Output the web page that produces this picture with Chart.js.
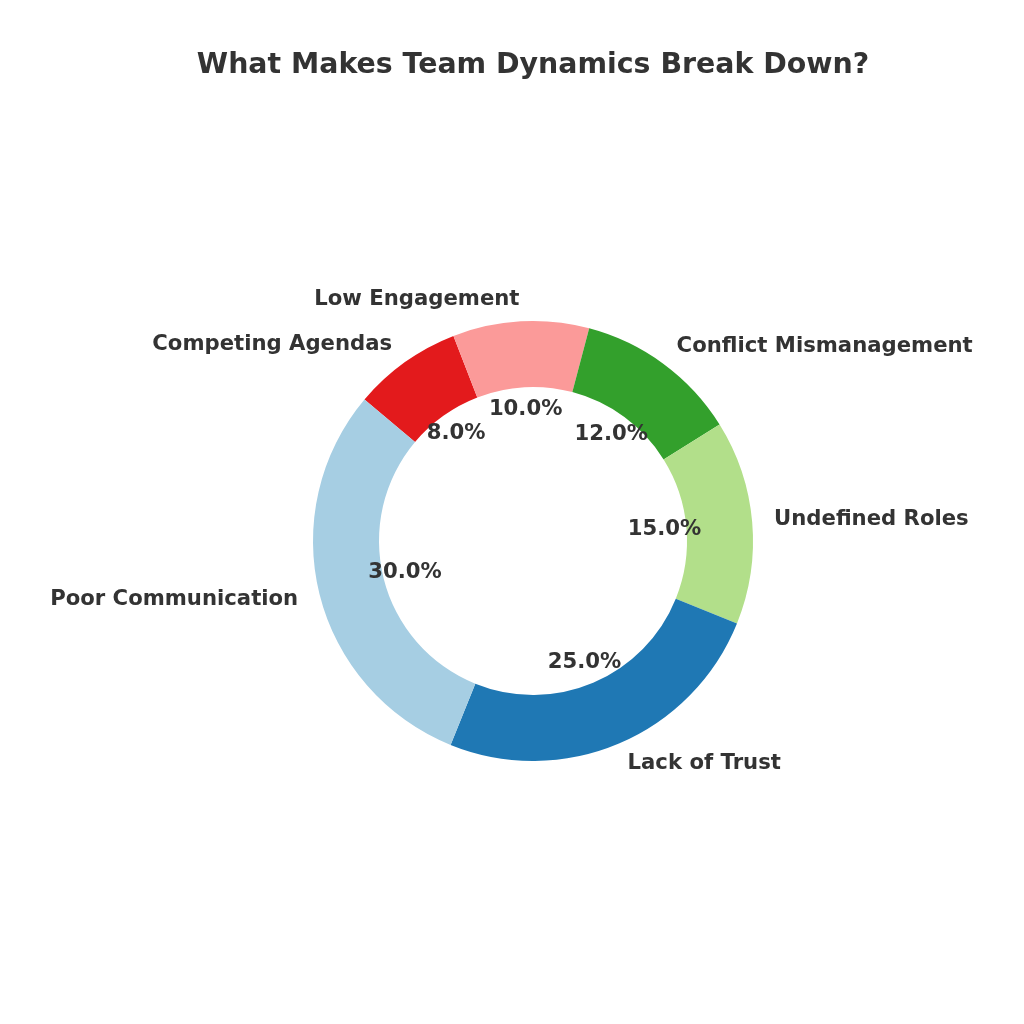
<!DOCTYPE html>
<html>
<head>
<meta charset="utf-8">
<script src="https://cdn.jsdelivr.net/npm/chart.js@4"></script>
<style>
  html, body { margin: 0; padding: 0; background: #fff; }
  #wrap { width: 1024px; height: 1024px; }
</style>
</head>
<body>
<div id="wrap"><canvas id="donutChart" width="1024" height="1024"></canvas></div>
<script>
// Data (matplotlib order, counter-clockwise from 140 deg)
var categories = ['Poor Communication', 'Lack of Trust', 'Undefined Roles',
                  'Conflict Mismanagement', 'Low Engagement', 'Competing Agendas'];
var shares = [30, 25, 15, 12, 10, 8];
var sliceColors = ['#a6cee3', '#1f78b4', '#b2df8a', '#33a02c', '#fb9a99', '#e31a1c'];
var chartTitle = 'What Makes Team Dynamics Break Down?';

// Chart.js draws clockwise, so reverse to keep the same layout
var drawLabels = categories.slice().reverse();
var drawValues = shares.slice().reverse();
var drawColors = sliceColors.slice().reverse();

var textColor = '#333333';
var fontFamily = '"DejaVu Sans", sans-serif';

// labels outside + percentages inside, like matplotlib's pie
var pieLabels = {
    id: 'pieLabels',
    afterDatasetsDraw: function (chart) {
        var ctx = chart.ctx;
        var meta = chart.getDatasetMeta(0);
        var total = drawValues.reduce(function (a, b) { return a + b; }, 0);
        ctx.save();
        ctx.fillStyle = textColor;
        ctx.font = 'bold 21.2px ' + fontFamily;
        ctx.textBaseline = 'middle';
        meta.data.forEach(function (arc, i) {
            var p = arc.getProps(['x', 'y', 'startAngle', 'endAngle', 'outerRadius'], true);
            var mid = (p.startAngle + p.endAngle) / 2;
            var c = Math.cos(mid), s = Math.sin(mid);
            // category label
            ctx.textAlign = c >= 0 ? 'left' : 'right';
            ctx.fillText(drawLabels[i], p.x + c * p.outerRadius * 1.1, p.y + s * p.outerRadius * 1.1);
            // percentage
            ctx.textAlign = 'center';
            var pct = (drawValues[i] / total * 100).toFixed(1) + '%';
            ctx.fillText(pct, p.x + c * p.outerRadius * 0.6, p.y + s * p.outerRadius * 0.6);
        });
        // title (built-in title would be squeezed to the padded width)
        ctx.font = 'bold 28.4px ' + fontFamily;
        ctx.textAlign = 'center';
        ctx.fillText(chartTitle, (chart.chartArea.left + chart.chartArea.right) / 2, 66);
        ctx.restore();
    }
};

var donutChart = new Chart(document.getElementById('donutChart'), {
    type: 'doughnut',
    data: {
        labels: drawLabels,
        datasets: [{
            data: drawValues,
            backgroundColor: drawColors,
            borderWidth: 0
        }]
    },
    options: {
        responsive: false,
        animation: false,
        rotation: -50,
        cutout: '70%',
        layout: {
            padding: { top: 321, left: 313, right: 271, bottom: 263 }
        },
        plugins: {
            legend: { display: false },
            tooltip: { enabled: false },
            title: { display: false }
        }
    },
    plugins: [pieLabels]
});
</script>
</body>
</html>
